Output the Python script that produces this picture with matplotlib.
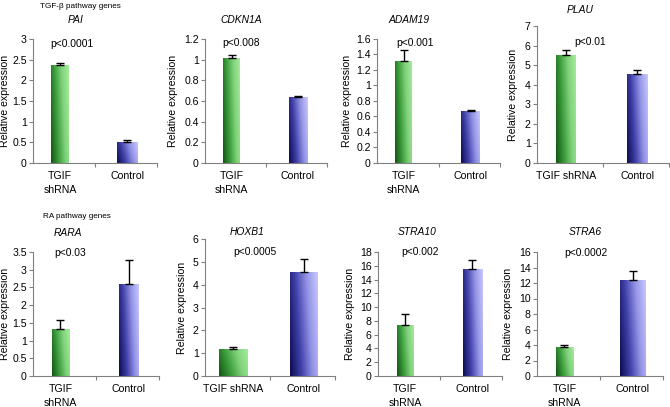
import numpy as np
import matplotlib
matplotlib.use("Agg")
import matplotlib.pyplot as plt
from matplotlib.colors import LinearSegmentedColormap
from matplotlib.ticker import FixedLocator, FuncFormatter

plt.rcParams['font.family'] = ['Liberation Sans', 'DejaVu Sans']

# ---------------- data ----------------
genes = ["PAI", "CDKN1A", "ADAM19", "PLAU", "RARA", "HOXB1", "STRA10", "STRA6"]
pvals = ["p<0.0001", "p<0.008", "p<0.001", "p<0.01", "p<0.03", "p<0.0005", "p<0.002", "p<0.0002"]
tgif_vals = [2.36, 1.02, 1.32, 5.52, 1.32, 1.17, 7.45, 3.74]
tgif_err = [0.07, 0.025, 0.14, 0.24, 0.26, 0.10, 1.6, 0.26]
ctrl_vals = [0.50, 0.634, 0.667, 4.53, 2.61, 4.54, 15.6, 12.35]
ctrl_err = [0.05, 0.013, 0.013, 0.22, 0.66, 0.57, 1.3, 1.15]
ymax = [3, 1.2, 1.6, 7, 3.5, 6, 18, 16]
ystep = [0.5, 0.2, 0.2, 1, 0.5, 1, 2, 2]
tgif_labels = ["TGIF\nshRNA", "TGIF\nshRNA", "TGIF\nshRNA", "TGIF shRNA",
               "TGIF\nshRNA", "TGIF shRNA", "TGIF\nshRNA", "TGIF\nshRNA"]
ctrl_label = "Control"
group_titles = ["TGF-\u03b2 pathway genes", "RA pathway genes"]

# ---------------- layout (pixels) ----------------
W, H = 670, 407
axes_px = [(33, 39, 157, 163), (205, 39, 327, 163), (377, 39, 500, 163), (537, 26, 669, 163),
           (33, 252, 159, 376), (205, 239, 335, 376), (378, 252, 502, 376), (537, 252, 663, 376)]
bar_w = [(0.26, 0.30), (0.25, 0.28), (0.25, 0.28), (0.27, 0.29),
         (0.25, 0.29), (0.40, 0.39), (0.24, 0.29), (0.25, 0.37)]
title_px = [(76, 20), (241, 20), (409, 20), (580, 10), (68, 233), (247, 232), (417, 232), (585, 232)]
p_px = [(72, 44), (241, 43), (415, 43), (590, 42), (70, 253), (255, 252), (420, 252), (586, 253)]
ylab_px = [5, 173, 347, 513, 5, 182, 350, 508]
group_px = [(80, 6), (77, 217)]

green_cmap = LinearSegmentedColormap.from_list("g", ["#135513", "#3a9a3a", "#7fd27a", "#a6eb9c"])
blue_cmap = LinearSegmentedColormap.from_list("b", ["#0c0c50", "#4040aa", "#9494e6", "#c8c8ff"])

fig = plt.figure(figsize=(W / 100, H / 100), dpi=100)
fig.patch.set_facecolor("white")

def fx(x):
    return x / W

def fy(y):
    return 1 - y / H

gx = np.linspace(0, 1, 64)
gy = np.linspace(0, 1, 64)
GX, GY = np.meshgrid(gx, gy)
grad = np.clip(0.8 * GX + 0.2 * GY, 0, 1)

xlim = (-0.4, 1.44)
grey = "#808080"

for i in range(8):
    l, t, r, b = axes_px[i]
    ax = fig.add_axes([fx(l), fy(b), (r - l) / W, (b - t) / H])
    vals = [tgif_vals[i], ctrl_vals[i]]
    errs = [tgif_err[i], ctrl_err[i]]
    cmaps = [green_cmap, blue_cmap]
    for j in range(2):
        bars = ax.bar(j, vals[j], width=bar_w[i][j], color="none", edgecolor="none", zorder=2)
        patch = bars[0]
        x0 = j - bar_w[i][j] / 2
        im = ax.imshow(grad, extent=[x0, x0 + bar_w[i][j], 0, vals[j]], origin="lower",
                       aspect="auto", cmap=cmaps[j], zorder=2, interpolation="bilinear")
        im.set_clip_path(patch)
        ax.errorbar(j, vals[j], yerr=[[0], [errs[j]]], fmt="none", ecolor="black",
                    elinewidth=1.0, capsize=3.2, capthick=1.0, zorder=3)
    ax.set_xlim(*xlim)
    ax.set_ylim(0, ymax[i])
    ax.set_yticks(np.arange(0, ymax[i] + 1e-9, ystep[i]))
    ax.yaxis.set_major_formatter(FuncFormatter(lambda v, p: "%g" % round(v, 3)))
    ax.set_xticks([0, 1])
    ax.set_xticklabels([tgif_labels[i], ctrl_label], fontsize=7.6, linespacing=1.45)
    ax.xaxis.set_minor_locator(FixedLocator([0.52, xlim[1]]))
    ax.tick_params(axis="x", which="major", length=0, pad=6)
    ax.tick_params(axis="x", which="minor", length=3, color=grey, width=0.8)
    ax.tick_params(axis="y", length=3, color=grey, width=0.8, pad=1.5, labelsize=7.6)
    for s in ["top", "right"]:
        ax.spines[s].set_visible(False)
    for s in ["left", "bottom"]:
        ax.spines[s].set_color(grey)
        ax.spines[s].set_linewidth(0.8)
    ax.set_facecolor("none")

    fig.text(fx(title_px[i][0]), fy(title_px[i][1]), genes[i], ha="center", va="center",
             fontsize=7.4, style="italic")
    fig.text(fx(p_px[i][0]), fy(p_px[i][1]), pvals[i], ha="center", va="center", fontsize=7.4)
    fig.text(fx(ylab_px[i]), fy((t + b) / 2), "Relative expression", ha="center", va="center",
             rotation=90, fontsize=7.6)

for k in range(2):
    fig.text(fx(group_px[k][0]), fy(group_px[k][1]), group_titles[k], ha="center", va="center",
             fontsize=5.9)

fig.savefig("out.png", dpi=100, facecolor="white")
